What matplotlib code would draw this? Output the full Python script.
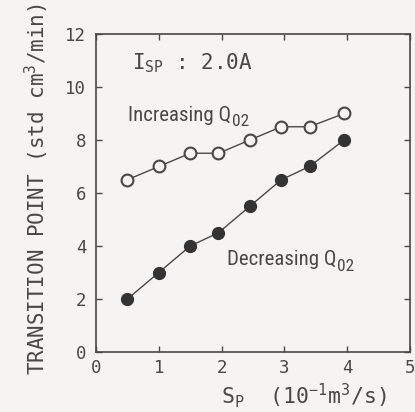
import matplotlib
matplotlib.use("Agg")
import matplotlib.pyplot as plt

# Pumping speed S_P (10^-1 m^3/s)
sp_increasing = [0.5, 1.0, 1.5, 1.95, 2.45, 2.95, 3.4, 3.95]
sp_decreasing = [0.5, 1.0, 1.5, 1.95, 2.45, 2.95, 3.4, 3.95]
# Transition point (std cm^3/min)
tp_increasing = [6.5, 7.0, 7.5, 7.5, 8.0, 8.5, 8.5, 9.0]
tp_decreasing = [2.0, 3.0, 4.0, 4.5, 5.5, 6.5, 7.0, 8.0]

x_ticks = [0, 1, 2, 3, 4, 5]
y_ticks = [0, 2, 4, 6, 8, 10, 12]

ink = "#484848"
bg = "#f6f4f3"
mono = ["DejaVu Sans Mono"]
narrow = ["Liberation Sans Narrow", "Roboto Condensed", "DejaVu Sans"]

plt.rcParams["mathtext.fontset"] = "custom"
plt.rcParams["mathtext.rm"] = "DejaVu Sans Mono"
plt.rcParams["mathtext.it"] = "DejaVu Sans Mono"
plt.rcParams["mathtext.default"] = "rm"

fig = plt.figure(figsize=(4.15, 4.12), dpi=100, facecolor=bg)
ax = fig.add_axes([0.2313, 0.1456, 0.7567, 0.7719])
ax.set_facecolor(bg)

ax.plot(sp_increasing, tp_increasing, color=ink, lw=1.0, marker="o",
        ms=8.5, mfc=bg, mec=ink, mew=1.5, zorder=3)
ax.plot(sp_decreasing, tp_decreasing, color=ink, lw=1.0, marker="o",
        ms=8.5, mfc="#333333", mec="#333333", mew=1.0, zorder=3)

ax.set_xlim(0, 5)
ax.set_ylim(0, 12)
ax.set_xticks(x_ticks)
ax.set_yticks(y_ticks)
ax.tick_params(direction="in", length=4, width=1.0, color=ink,
               top=True, right=True, labelsize=12.5, labelcolor=ink)
ax.tick_params(axis="x", pad=5)
ax.tick_params(axis="y", pad=7)
for lab in ax.get_xticklabels() + ax.get_yticklabels():
    lab.set_family(mono)
for s in ax.spines.values():
    s.set_color(ink)
    s.set_linewidth(1.2)

ax.text(0.115, 0.909, r"I$_{SP}$ : 2.0A", transform=ax.transAxes,
        fontsize=15, color=ink, family=mono, va="center", ha="left")


def curve_label(x, y, word):
    main = ax.text(x, y, word + " Q", transform=ax.transAxes, fontsize=15,
                   color=ink, family=narrow, va="center", ha="left")
    ax.annotate("02", xy=(1, 0), xycoords=main, xytext=(0.5, -3.5),
                textcoords="offset points", fontsize=12.5, color=ink,
                family=narrow, va="bottom", ha="left")


curve_label(0.102, 0.745, "Increasing")
curve_label(0.417, 0.29, "Decreasing")

fig.text(0.09, 0.541, r"TRANSITION POINT (std cm$^{3}$/min)", rotation=90,
         fontsize=15, color=ink, family=mono, ha="center", va="center")
fig.text(0.733, 0.039, r"S$_{P}$  (10$^{-1}$m$^{3}$/s)",
         fontsize=15.5, color=ink, family=mono, ha="center", va="center")

fig.savefig("out.png", dpi=100, facecolor=bg)
